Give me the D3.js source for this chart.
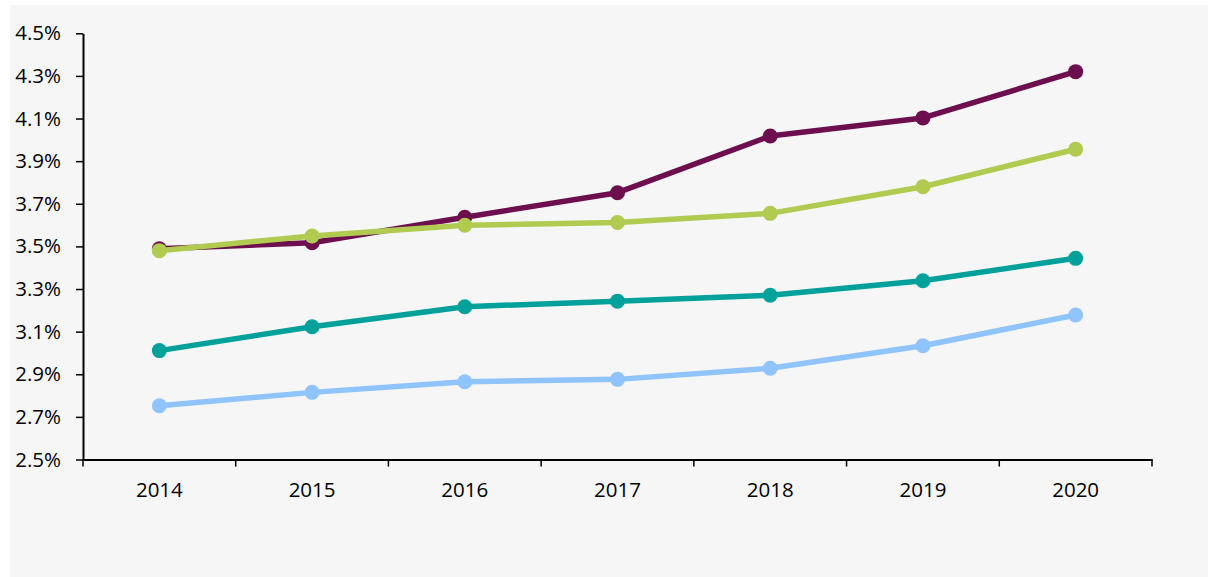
<!DOCTYPE html>
<html>
<head>
<meta charset="utf-8">
<script src="https://cdn.jsdelivr.net/npm/d3@7"></script>
<style>
html,body{margin:0;padding:0;background:#ffffff;}
svg{display:block;}
</style>
</head>
<body>
<svg id="chart" width="1214" height="577"></svg>
<script>
const years = ["2014","2015","2016","2017","2018","2019","2020"];
const seriesNames = ["Light blue","Teal","Purple","Green"];
const lightBlue = [2.752, 2.815, 2.865, 2.876, 2.928, 3.034, 3.178];
const teal      = [3.011, 3.123, 3.217, 3.243, 3.271, 3.339, 3.444];
const purple    = [3.489, 3.517, 3.637, 3.752, 4.018, 4.103, 4.320];
const green     = [3.480, 3.549, 3.599, 3.612, 3.655, 3.780, 3.956];
const seriesColors = ["#8fc4ff","#00a19a","#6d0e4e","#b0cb50"];
const yTicks = [2.5, 2.7, 2.9, 3.1, 3.3, 3.5, 3.7, 3.9, 4.1, 4.3, 4.5];

const seriesValues = [lightBlue, teal, purple, green];

const svg = d3.select("#chart");
svg.append("rect").attr("x",10).attr("y",5).attr("width",1198).attr("height",572).attr("fill","#f6f6f6");

const pLeft = 83, pRight = 1152, pTop = 33.3, pBottom = 459.5;
const x = d3.scaleBand().domain(years).range([pLeft, pRight]).padding(0);
const y = d3.scaleLinear().domain([2.5, 4.5]).range([pBottom, pTop]);

const font = "'Open Sans', sans-serif";
const fsize = "20.5px";

// y axis
const yAxis = svg.append("g").attr("transform", `translate(${pLeft},0)`)
  .call(d3.axisLeft(y).tickValues(yTicks).tickFormat(d => d.toFixed(1) + "%").tickSize(7).tickSizeOuter(0));
yAxis.select(".domain").attr("stroke","#000").attr("stroke-width",2);
yAxis.selectAll(".tick line").attr("stroke","#000").attr("stroke-width",1.5);
yAxis.selectAll(".tick text").attr("x",-22).attr("fill","#000")
  .style("font-family",font).style("font-size",fsize).attr("text-anchor","end");

// x axis
const xAxis = svg.append("g").attr("transform", `translate(0,${pBottom})`)
  .call(d3.axisBottom(x).tickSize(0).tickSizeOuter(0));
xAxis.select(".domain").attr("stroke","#000").attr("stroke-width",2);
xAxis.selectAll(".tick text").attr("y",31).attr("dy","0.32em").attr("fill","#000")
  .style("font-family",font).style("font-size",fsize);
// category boundary ticks
const bounds = years.map(d => x(d)).concat([x(years[years.length-1]) + x.bandwidth()]);
xAxis.selectAll(".bound").data(bounds).enter().append("line")
  .attr("class","bound").attr("x1",d=>d).attr("x2",d=>d).attr("y1",0).attr("y2",7)
  .attr("stroke","#000").attr("stroke-width",1.5);

const cx = d => x(d) + x.bandwidth()/2;
const line = d3.line().x((v,i) => cx(years[i])).y(v => y(v));

seriesValues.forEach((vals, si) => {
  const g = svg.append("g").attr("class","series");
  g.append("path").attr("d", line(vals)).attr("fill","none")
    .attr("stroke", seriesColors[si]).attr("stroke-width",5.5).attr("stroke-linejoin","round");
  g.selectAll("circle").data(vals).enter().append("circle")
    .attr("cx",(v,i)=>cx(years[i])).attr("cy",v=>y(v)).attr("r",7.5)
    .attr("fill", seriesColors[si]);
});
</script>
</body>
</html>
